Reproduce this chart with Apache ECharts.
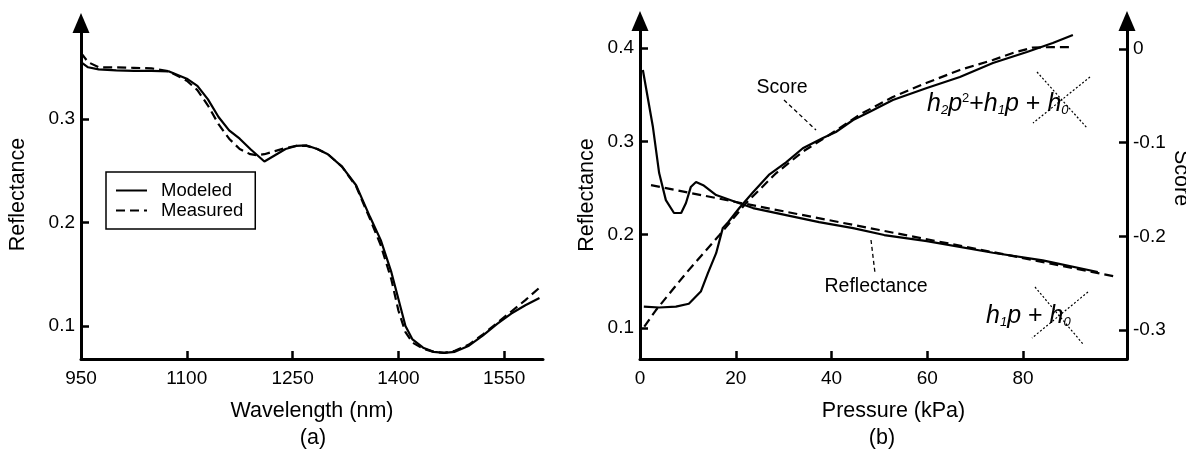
<!DOCTYPE html>
<html>
<head>
<meta charset="utf-8">
<script src="https://cdn.jsdelivr.net/npm/echarts@6/dist/echarts.min.js"></script>
<style>
html, body { margin: 0; padding: 0; background: #fff; }
#chart { width: 1186px; height: 457px; }
</style>
</head>
<body>
<div id="chart"></div>
<script>
// (a) 反射率光谱
const wavelengths = [950, 960, 975, 1000, 1025, 1050, 1075, 1100, 1115, 1130, 1145, 1160, 1175, 1190, 1200, 1210, 1225, 1240, 1255, 1270, 1285, 1300, 1320, 1340, 1360, 1375, 1390, 1400, 1410, 1420, 1435, 1450, 1465, 1480, 1500, 1520, 1540, 1560, 1580, 1600];
const modeledRefl = [0.355, 0.350, 0.348, 0.347, 0.3465, 0.3465, 0.346, 0.339, 0.332, 0.319, 0.302, 0.289, 0.281, 0.271, 0.265, 0.259, 0.265, 0.271, 0.274, 0.2745, 0.271, 0.266, 0.254, 0.236, 0.205, 0.183, 0.152, 0.126, 0.100, 0.087, 0.079, 0.075, 0.074, 0.075, 0.081, 0.091, 0.102, 0.112, 0.120, 0.127];
const measuredRefl = [0.364, 0.355, 0.350, 0.350, 0.3495, 0.349, 0.346, 0.337, 0.328, 0.313, 0.295, 0.281, 0.271, 0.266, 0.265, 0.266, 0.269, 0.272, 0.274, 0.274, 0.271, 0.266, 0.254, 0.235, 0.203, 0.178, 0.145, 0.115, 0.094, 0.084, 0.078, 0.075, 0.074, 0.076, 0.082, 0.092, 0.103, 0.114, 0.125, 0.137];
const wlTicks = [950, 1100, 1250, 1400, 1550];
const reflTicksA = [0.1, 0.2, 0.3];

// (b) 压力
const scorePressure = [0.8, 4, 7.5, 10.2, 12.7, 14.2, 15.9, 17.3, 18.4, 20.7, 23.6, 26.9, 30.5, 34, 38.2, 40.9, 44.5, 48, 52.8, 59.9, 66.8, 73.7, 80.8, 86.2, 90.4];
const scoreValues = [-0.275, -0.276, -0.275, -0.272, -0.259, -0.239, -0.218, -0.191, -0.185, -0.170, -0.153, -0.1345, -0.121, -0.106, -0.095, -0.0886, -0.0758, -0.067, -0.0544, -0.0416, -0.0299, -0.015, -0.0032, 0.0064, 0.015];
const scoreFitPressure = [0.9, 3.3, 9.6, 16.6, 22.1, 28.4, 34, 39.5, 45.9, 52.8, 59.9, 66.8, 73.7, 78, 82, 86, 90.4];
const scoreFitValues = [-0.2965, -0.279, -0.2395, -0.1986, -0.1648, -0.1327, -0.1096, -0.0918, -0.070, -0.0512, -0.036, -0.0224, -0.0117, -0.004, 0.0015, 0.002, 0.002];
const reflPressure = [0.6, 2.7, 4.0, 5.4, 7.1, 8.6, 9.6, 10.6, 11.7, 13.2, 15.9, 20, 23.6, 30.5, 37.4, 44.5, 51, 59.9, 73.7, 84.1, 95.6];
const reflValues = [0.3764, 0.3153, 0.266, 0.237, 0.2232, 0.2232, 0.2339, 0.251, 0.2564, 0.253, 0.2424, 0.235, 0.2285, 0.221, 0.2135, 0.207, 0.1996, 0.193, 0.1806, 0.1725, 0.160];
const reflFitPressure = [2.3, 25, 50, 75, 99.8];
const reflFitValues = [0.253, 0.230, 0.205, 0.180, 0.1546];
const pressureTicks = [0, 20, 40, 60, 80];
const reflTicksB = [0.1, 0.2, 0.3, 0.4];
const scoreTicks = [0, -0.1, -0.2, -0.3];

const FONT = 'Liberation Sans, Arial, sans-serif';

const chart = echarts.init(document.getElementById('chart'), null, { renderer: 'canvas' });

const zip = (xs, ys) => xs.map((x, i) => [x, ys[i]]);

// 黑色线条
const lineSeries = (name, data, xi, yi, dashed) => ({
	name: name,
	type: 'line',
	xAxisIndex: xi,
	yAxisIndex: yi,
	data: data,
	symbol: 'none',
	showSymbol: false,
	smooth: false,
	animation: false,
	lineStyle: { color: '#000', width: 2.2, type: dashed ? [9, 5] : 'solid' },
	itemStyle: { color: '#000' },
	z: dashed ? 3 : 2,
});

const plain = (v) => String(v);

const axisCommon = (ticks, extra) => Object.assign({
	type: 'value',
	splitLine: { show: false },
	axisLine: { show: true, onZero: false, lineStyle: { color: '#000', width: 3 } },
	axisTick: { show: true, inside: true, length: 8, customValues: ticks, lineStyle: { color: '#000', width: 2.5 } },
	axisLabel: { customValues: ticks, formatter: plain, color: '#000', fontSize: 19, fontFamily: FONT, margin: 6 },
	nameLocation: 'middle',
}, extra);

const arrowLine = { show: true, onZero: false, symbol: ['none', 'triangle'], symbolSize: [17, 20], lineStyle: { color: '#000', width: 3 } };
const nameStyle = (padding) => ({ color: '#000', fontSize: 21.5, fontFamily: FONT, padding: padding });
const xLabel = (ticks) => ({ customValues: ticks, formatter: plain, color: '#000', fontSize: 19, fontFamily: FONT, margin: 10 });

const option = {
	animation: false,
	backgroundColor: '#fff',
	grid: [
		{ left: 81, top: 23, width: 462, height: 336, outerBoundsMode: 'none' },
		{ left: 640, top: 21, width: 487, height: 338, outerBoundsMode: 'none' },
	],
	legend: {
		data: ['Modeled', 'Measured'],
		orient: 'vertical',
		left: 106,
		top: 172,
		padding: [9, 12, 9, 9],
		itemGap: 1,
		itemWidth: 31,
		itemHeight: 14,
		borderColor: '#000',
		borderWidth: 1.5,
		itemStyle: { opacity: 0 },
		textStyle: { color: '#000', fontSize: 18.5, lineHeight: 14, fontFamily: FONT, padding: [0, 0, 0, 9] },
	},
	xAxis: [
		axisCommon(wlTicks, {
			gridIndex: 0, min: 950, max: 1605,
			name: 'Wavelength (nm)', nameGap: 41, nameTextStyle: nameStyle(0),
			axisLabel: xLabel(wlTicks),
		}),
		axisCommon(pressureTicks, {
			gridIndex: 1, min: 0, max: 101.7,
			name: 'Pressure (kPa)', nameGap: 41, nameTextStyle: nameStyle([0, 0, 0, 20]),
			axisLabel: xLabel(pressureTicks),
		}),
	],
	yAxis: [
		axisCommon(reflTicksA, {
			gridIndex: 0, min: 0.0681, max: 0.3928,
			name: 'Reflectance', nameRotate: 90, nameGap: 52, nameTextStyle: nameStyle([0, 7, 0, 0]),
			axisLine: arrowLine,
		}),
		axisCommon(reflTicksB, {
			gridIndex: 1, min: 0.0668, max: 0.4289,
			name: 'Reflectance', nameRotate: 90, nameGap: 42, nameTextStyle: nameStyle([0, 10, 0, 0]),
			axisLine: arrowLine,
		}),
		axisCommon(scoreTicks, {
			gridIndex: 1, position: 'right', min: -0.331, max: 0.0299,
			name: 'Score', nameRotate: -90, nameGap: 30, nameTextStyle: nameStyle([0, 24, 0, 0]),
			axisLine: arrowLine,
		}),
	],
	series: [
		lineSeries('Modeled', zip(wavelengths, modeledRefl), 0, 0, false),
		lineSeries('Measured', zip(wavelengths, measuredRefl), 0, 0, true),
		lineSeries('Score', zip(scorePressure, scoreValues), 1, 2, false),
		lineSeries('Score fit', zip(scoreFitPressure, scoreFitValues), 1, 2, true),
		lineSeries('Reflectance', zip(reflPressure, reflValues), 1, 1, false),
		lineSeries('Reflectance fit', zip(reflFitPressure, reflFitValues), 1, 1, true),
	],
	graphic: [],
};

// 标注文字和引线
const label = (text, x, y, size) => ({
	type: 'text', x: x, y: y, silent: true,
	style: { text: text, fill: '#000', fontSize: size, fontFamily: FONT, align: 'center', verticalAlign: 'middle', textAlign: 'center', textVerticalAlign: 'middle' },
});
const seg = (x1, y1, x2, y2, dash, w) => ({
	type: 'line', silent: true,
	shape: { x1: x1, y1: y1, x2: x2, y2: y2 },
	style: { stroke: '#000', lineWidth: w, lineDash: dash },
});
const formulaRich = {
	i: { fontSize: 25, fontStyle: 'italic', fontFamily: FONT, fill: '#000', color: '#000' },
	n: { fontSize: 25, fontFamily: FONT, fill: '#000', color: '#000' },
	s: { fontSize: 13, fontStyle: 'italic', fontFamily: FONT, verticalAlign: 'bottom', fill: '#000', color: '#000' },
	u: { fontSize: 13, fontFamily: FONT, verticalAlign: 'top', fill: '#000', color: '#000' },
};
const formula = (text, x, y) => ({
	type: 'text', x: x, y: y, silent: true,
	style: { text: text, rich: formulaRich, verticalAlign: 'middle', textVerticalAlign: 'middle', fill: '#000' },
});

option.graphic = [
	label('(a)', 313, 438, 21.5),
	label('(b)', 882, 438, 21.5),
	label('Score', 782, 88, 19.5),
	seg(784, 100, 816, 130, [4, 3], 1.3),
	label('Reflectance', 876, 287, 19.5),
	seg(871, 240, 875, 273, [4, 3], 1.3),
	formula('{i|h}{s|2}{i|p}{u|2}{n|+}{i|h}{s|1}{i|p}{n| + }{i|h}{s|0}', 927, 104),
	seg(1037, 72, 1087, 128, [2, 2], 1.2),
	seg(1090, 77, 1033, 123, [2, 2], 1.2),
	formula('{i|h}{s|1}{i|p}{n| + }{i|h}{s|0}', 986, 316),
	seg(1035, 287, 1083, 344, [2, 2], 1.2),
	seg(1088, 292, 1032, 338, [2, 2], 1.2),
];

chart.setOption(option);
</script>
</body>
</html>
